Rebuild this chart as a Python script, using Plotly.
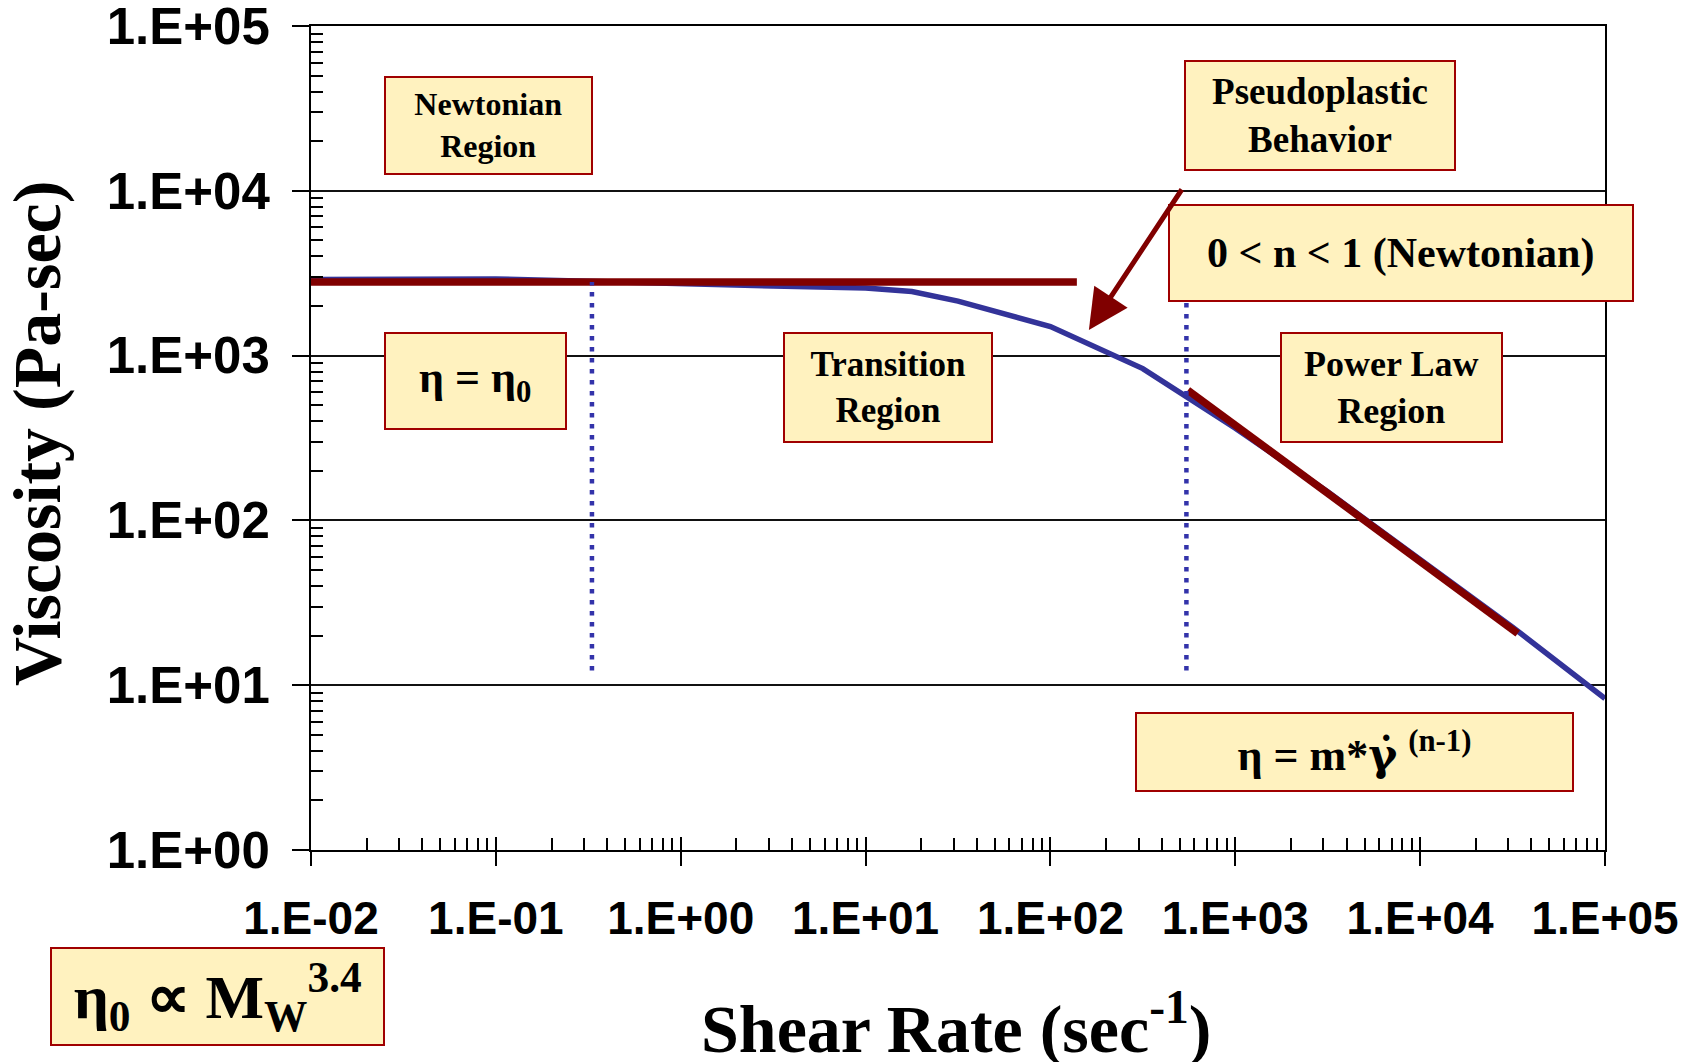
import plotly.graph_objects as go

# Flow curve of a polymer melt: shear rate (1/s) vs. viscosity (Pa·s)
shear_rate = [0.01, 0.0316, 0.1, 0.316, 1, 3.16, 10, 17.8, 31.6, 100, 316,
              1000, 3162, 10000, 31623, 100000]
viscosity = [2900, 2920, 2920, 2830, 2716, 2641, 2568, 2446, 2142, 1500, 834,
             363, 149, 57.6, 22.5, 8.3]

# Zero-shear plateau (eta = eta0)
plateau_rate = [0.01, 139]
plateau_visc = [2800, 2800]

# Power-law fit in the shear-thinning range
power_rate = [554, 33700]
power_visc = [617, 20.6]

# Boundaries between Newtonian / transition / power-law regions
boundary_rates = [0.331, 544]
boundary_visc = [12.3, 2800]

# Axis ticks
x_tickvals = [1e-2, 1e-1, 1e0, 1e1, 1e2, 1e3, 1e4, 1e5]
x_ticktext = ["1.E-02", "1.E-01", "1.E+00", "1.E+01", "1.E+02", "1.E+03", "1.E+04", "1.E+05"]
y_tickvals = [1e0, 1e1, 1e2, 1e3, 1e4, 1e5]
y_ticktext = ["1.E+00", "1.E+01", "1.E+02", "1.E+03", "1.E+04", "1.E+05"]

# Arrow pointing from the "Pseudoplastic Behavior" note to the curve (log10 units)
arrow_tail = (2.716, 4.017)
arrow_head = (2.208, 3.155)

BLUE = "#333399"
DARK_RED = "#800000"
BOX_FILL = "#FFF2BF"
BOX_EDGE = "#A00000"
SERIF = "Liberation Serif, Times New Roman, serif"
NARROW = "Liberation Sans Narrow, Arial Narrow, Liberation Sans, Arial, sans-serif"

W, H = 1692, 1062
ML, MR, MT, MB = 311, 87, 26, 212
PW, PH = W - ML - MR, H - MT - MB


def paper_x(px):
    return (px - ML) / PW


def paper_y(py):
    return (H - MB - py) / PH


def minor_vals(lo, hi):
    vals = []
    for e in range(lo, hi):
        for m in range(2, 10):
            vals.append(m * 10 ** e)
    return vals


fig = go.Figure()

fig.add_trace(go.Scatter(x=shear_rate, y=viscosity, mode="lines",
                         line=dict(color=BLUE, width=5.5), hoverinfo="skip"))

for r in boundary_rates:
    fig.add_trace(go.Scatter(x=[r, r], y=boundary_visc, mode="lines", xaxis="x2",
                             line=dict(color="#3333AA", width=4.5, dash="4.5px,6.5px"),
                             hoverinfo="skip"))

fig.add_trace(go.Scatter(x=plateau_rate, y=plateau_visc, mode="lines",
                         line=dict(color=DARK_RED, width=7.5), hoverinfo="skip"))
fig.add_trace(go.Scatter(x=power_rate, y=power_visc, mode="lines",
                         line=dict(color=DARK_RED, width=7.5), hoverinfo="skip"))

annotations = []


def note(text, left, top, right, bottom, size):
    annotations.append(dict(
        xref="paper", yref="paper", x=paper_x(left), y=paper_y(top),
        xanchor="left", yanchor="top", width=right - left - 4, height=bottom - top - 4,
        text=text, showarrow=False, align="center", valign="middle",
        bgcolor=BOX_FILL, bordercolor=BOX_EDGE, borderwidth=2, borderpad=0,
        font=dict(family=SERIF, size=size, color="black", weight="bold"),
    ))


GAMMA_DOT = "<span style='font-family:DejaVu Serif'>γ̇</span>"

note("Newtonian<br>Region", 383.5, 75.5, 592, 174, 32)
note("η = η<sub>0</sub>", 383.5, 332, 566, 430, 44)
note("Transition<br>Region", 783, 332, 993, 442.5, 35)
note("Pseudoplastic<br>Behavior", 1184, 60, 1456, 171, 37)
note("0 &lt; n &lt; 1 (Newtonian)", 1168, 204, 1633.5, 302, 42)
note("Power Law<br>Region", 1280, 332, 1502.5, 442.7, 36)
note("η = m*" + GAMMA_DOT + " <sup>(n-1)</sup>", 1135, 711.7, 1574, 791.7, 44)
note("η<sub>0</sub> ∝ M<sub>W</sub><sup>3.4</sup>", 49.6, 947, 385, 1046, 62)

annotations.append(dict(
    xref="x", yref="y", axref="x", ayref="y",
    x=arrow_head[0], y=arrow_head[1], ax=arrow_tail[0], ay=arrow_tail[1],
    text="", showarrow=True, arrowhead=2, arrowsize=1.6, arrowwidth=5,
    arrowcolor=DARK_RED, standoff=0,
))

# Axis titles
annotations.append(dict(
    xref="paper", yref="paper", x=paper_x(37), y=paper_y(434),
    xanchor="center", yanchor="middle", textangle=-90, showarrow=False,
    text="Viscosity (Pa-sec)", font=dict(family=SERIF, size=68, color="black", weight="bold"),
))
annotations.append(dict(
    xref="paper", yref="paper", x=paper_x(956), y=paper_y(1024),
    xanchor="center", yanchor="middle", showarrow=False,
    text="Shear Rate (sec<sup>-1</sup>)",
    font=dict(family=SERIF, size=68, color="black", weight="bold"),
))

axis_common = dict(type="log", showline=True, linecolor="black", linewidth=2,
                   tickcolor="black", tickwidth=2, zeroline=False,
                   ticklabeloverflow="allow", automargin=False)

fig.update_layout(
    width=W, height=H, margin=dict(l=ML, r=MR, t=MT, b=MB, pad=0, autoexpand=False),
    paper_bgcolor="white", plot_bgcolor="white", showlegend=False,
    annotations=annotations,
    xaxis=dict(**axis_common, range=[-2, 5], tickvals=x_tickvals, ticktext=x_ticktext,
               ticks="outside", ticklen=14, mirror=True, showgrid=False,
               ticklabelstandoff=13,
               tickfont=dict(family=NARROW, size=46, color="black", weight="bold"),
               minor=dict(tickvals=minor_vals(-2, 5), ticks="inside", ticklen=12,
                          tickwidth=1.5, tickcolor="black", showgrid=False)),
    xaxis2=dict(type="log", range=[-2, 5], overlaying="x", anchor="y", side="bottom",
                tickvals=x_tickvals, ticks="inside", ticklen=13, tickwidth=2,
                tickcolor="black", showticklabels=False, showgrid=False,
                showline=False, zeroline=False, automargin=False),
    yaxis=dict(**axis_common, range=[0, 5], tickvals=y_tickvals, ticktext=y_ticktext,
               ticks="outside", ticklen=17, mirror=True, showgrid=True,
               gridcolor="#111111", gridwidth=1.5, ticklabelstandoff=12,
               tickfont=dict(family=NARROW, size=51, color="black", weight="bold"),
               minor=dict(tickvals=minor_vals(0, 5), ticks="inside", ticklen=12,
                          tickwidth=1.5, tickcolor="black", showgrid=False)),
)

fig.write_html("out.html")
